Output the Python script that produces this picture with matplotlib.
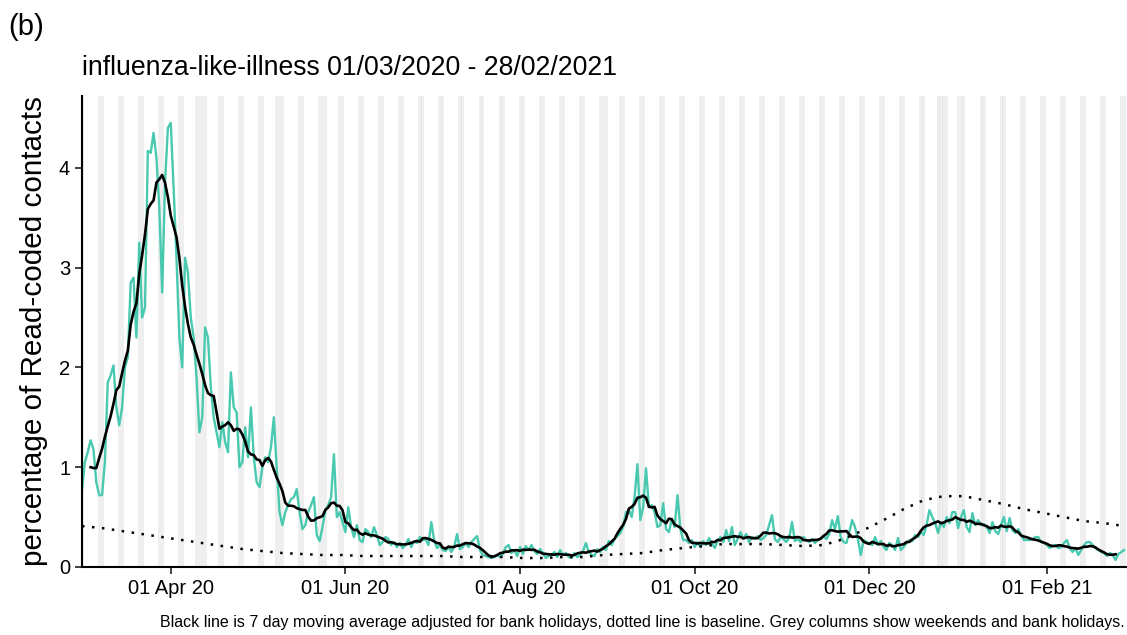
import numpy as np
import pandas as pd
import matplotlib
matplotlib.use("Agg")
import matplotlib.pyplot as plt
import matplotlib.dates as mdates

plt.rcParams['font.family'] = ['Liberation Sans', 'DejaVu Sans']

# daily percentage of Read-coded contacts, 01/03/2020 .. 28/02/2021
start = pd.Timestamp('2020-03-01')
ili_daily = [
    0.78, 1.05, 1.15, 1.27, 1.18, 0.85, 0.72, 0.72, 1.05, 1.85,
    1.92, 2.02, 1.60, 1.42, 1.60, 2.00, 2.10, 2.85, 2.90, 2.30,
    3.25, 2.50, 2.60, 4.17, 4.15, 4.35, 4.10, 3.60, 2.75, 3.85,
    4.40, 4.45, 3.80, 3.10, 2.30, 2.00, 3.10, 2.95, 2.50, 2.30,
    1.90, 1.35, 1.50, 2.40, 2.30, 1.80, 1.50, 1.35, 1.20, 1.45,
    1.25, 1.15, 1.95, 1.60, 1.55, 1.00, 1.05, 1.40, 1.10, 1.60,
    1.10, 0.85, 0.80, 1.00, 1.10, 1.05, 1.20, 1.50, 1.00, 0.55,
    0.42, 0.55, 0.62, 0.68, 0.70, 0.78, 0.55, 0.38, 0.42, 0.55,
    0.62, 0.70, 0.32, 0.26, 0.40, 0.57, 0.62, 0.70, 1.13, 0.50,
    0.55, 0.45, 0.35, 0.60, 0.40, 0.30, 0.42, 0.27, 0.25, 0.38,
    0.35, 0.30, 0.40, 0.32, 0.22, 0.25, 0.30, 0.28, 0.22, 0.25,
    0.20, 0.24, 0.19, 0.22, 0.28, 0.20, 0.26, 0.24, 0.30, 0.27,
    0.28, 0.22, 0.45, 0.27, 0.19, 0.22, 0.17, 0.16, 0.20, 0.15,
    0.20, 0.33, 0.18, 0.20, 0.24, 0.20, 0.25, 0.28, 0.31, 0.17,
    0.12, 0.11, 0.10, 0.09, 0.10, 0.12, 0.10, 0.13, 0.20, 0.22,
    0.14, 0.17, 0.11, 0.20, 0.13, 0.21, 0.17, 0.22, 0.16, 0.13,
    0.18, 0.14, 0.09, 0.11, 0.12, 0.15, 0.10, 0.17, 0.12, 0.14,
    0.10, 0.09, 0.14, 0.10, 0.12, 0.16, 0.24, 0.15, 0.12, 0.11,
    0.18, 0.15, 0.20, 0.17, 0.26, 0.22, 0.28, 0.31, 0.34, 0.40,
    0.55, 0.57, 0.50, 0.70, 1.03, 0.47, 0.60, 0.99, 0.60, 0.62,
    0.55, 0.40, 0.42, 0.64, 0.38, 0.35, 0.48, 0.40, 0.72, 0.38,
    0.27, 0.27, 0.24, 0.27, 0.20, 0.25, 0.20, 0.26, 0.22, 0.29,
    0.24, 0.19, 0.26, 0.30, 0.25, 0.37, 0.26, 0.40, 0.22, 0.28,
    0.35, 0.28, 0.33, 0.25, 0.30, 0.28, 0.31, 0.27, 0.29, 0.32,
    0.42, 0.52, 0.28, 0.25, 0.30, 0.28, 0.25, 0.29, 0.45, 0.26,
    0.28, 0.25, 0.30, 0.27, 0.25, 0.28, 0.24, 0.27, 0.28, 0.31,
    0.28, 0.33, 0.47, 0.38, 0.51, 0.30, 0.25, 0.24, 0.35, 0.47,
    0.40, 0.28, 0.12, 0.27, 0.25, 0.24, 0.22, 0.30, 0.22, 0.26,
    0.20, 0.17, 0.24, 0.22, 0.17, 0.29, 0.17, 0.20, 0.24, 0.27,
    0.26, 0.32, 0.30, 0.35, 0.32, 0.42, 0.57, 0.50, 0.44, 0.34,
    0.45, 0.40, 0.50, 0.44, 0.55, 0.55, 0.39, 0.50, 0.57, 0.40,
    0.35, 0.54, 0.42, 0.47, 0.42, 0.43, 0.40, 0.34, 0.45, 0.36,
    0.33, 0.42, 0.50, 0.36, 0.49, 0.37, 0.34, 0.38, 0.32, 0.27,
    0.27, 0.27, 0.28, 0.30, 0.30, 0.25, 0.24, 0.22, 0.19, 0.21,
    0.22, 0.19, 0.20, 0.24, 0.27, 0.19, 0.15, 0.19, 0.12, 0.17,
    0.22, 0.25, 0.25, 0.22, 0.19, 0.17, 0.15, 0.14, 0.11, 0.14,
    0.12, 0.07, 0.13, 0.15, 0.17,
]

# baseline, read once a week (every 7 days from 01/03/2020)
baseline_weekly = [
    0.41, 0.39, 0.36, 0.33, 0.30, 0.27, 0.24, 0.21, 0.18, 0.16,
    0.14, 0.13, 0.12, 0.12, 0.11, 0.11, 0.11, 0.11, 0.11, 0.10,
    0.10, 0.10, 0.09, 0.09, 0.10, 0.10, 0.12, 0.13, 0.14, 0.17,
    0.19, 0.21, 0.23, 0.23, 0.23, 0.22, 0.21, 0.22, 0.28, 0.37,
    0.47, 0.58, 0.67, 0.71, 0.71, 0.67, 0.63, 0.58, 0.54, 0.50,
    0.46, 0.44, 0.41,
]

# bank holidays (England) in the period
bank_holidays = ['2020-04-10', '2020-04-13', '2020-05-08', '2020-05-25',
                 '2020-08-31', '2020-12-25', '2020-12-28', '2021-01-01']

tick_dates = ['2020-04-01', '2020-06-01', '2020-08-01', '2020-10-01',
              '2020-12-01', '2021-02-01']

dates = pd.date_range(start, periods=len(ili_daily), freq='D')
ili = pd.Series(ili_daily, index=dates)
ma7 = ili.rolling(7, center=True).mean()
base_dates = pd.date_range(start, periods=len(baseline_weekly), freq='7D')

fig = plt.figure(figsize=(11.27, 6.35), dpi=100)
ax = fig.add_axes([82/1127, 1 - 567/635, 1 - 82/1127, (567 - 96)/635])

# grey columns: weekends and bank holidays
grey_days = [d for d in dates if d.dayofweek >= 5] + [pd.Timestamp(b) for b in bank_holidays]
for d in grey_days:
    ax.axvspan(d - pd.Timedelta(hours=12), d + pd.Timedelta(hours=14),
               color='#d9d9d9', alpha=0.4, lw=0, zorder=0)

ax.plot(dates, ili.values, color='#48c9b0', lw=1.7, zorder=2)
ax.plot(dates, ma7.values, color='black', lw=1.9, zorder=3)
ax.plot(base_dates, baseline_weekly, color='black', lw=1.8,
        linestyle=(0, (1, 3)), zorder=3)

ax.set_xlim(start, start + pd.Timedelta(days=365))
ax.set_ylim(0, 4.72)
ax.set_yticks([0, 1, 2, 3, 4])
ax.set_xticks(pd.to_datetime(tick_dates))
ax.xaxis.set_major_formatter(mdates.DateFormatter('%d %b %y'))

for s in ['top', 'right']:
    ax.spines[s].set_visible(False)
for s in ['left', 'bottom']:
    ax.spines[s].set_linewidth(1.5)
ax.tick_params(axis='both', labelsize=14.5, length=5, width=1.3,
               color='#333333', labelcolor='black')

ax.set_ylabel('percentage of Read-coded contacts', fontsize=21.3, labelpad=8)

fig.text(8/1127, 1 - 27/635, '(b)', fontsize=21, va='center', ha='left')
fig.text(82/1127, 1 - 68/635, 'influenza-like-illness 01/03/2020 - 28/02/2021',
         fontsize=19.2, va='center', ha='left')
fig.text(1125/1127, 1 - 622/635,
         'Black line is 7 day moving average adjusted for bank holidays, dotted line is baseline. '
         'Grey columns show weekends and bank holidays.',
         fontsize=11.5, va='center', ha='right')

fig.savefig('out.png', dpi=100)
